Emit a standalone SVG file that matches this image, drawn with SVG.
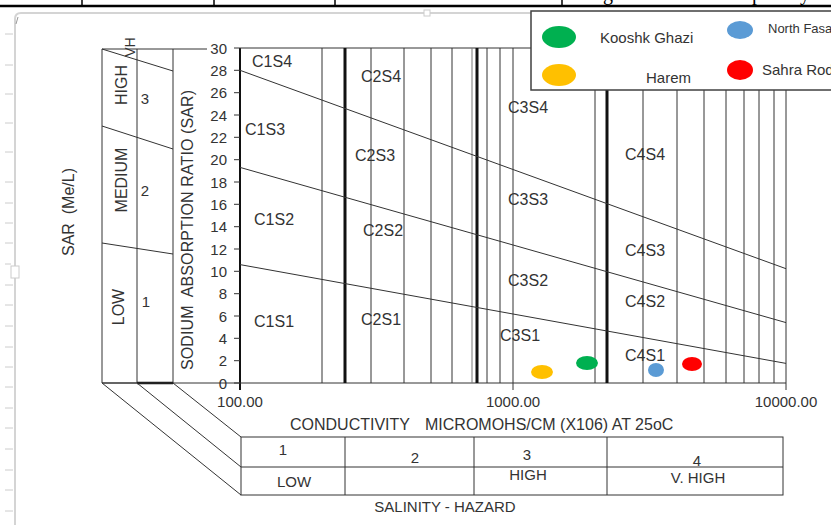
<svg xmlns="http://www.w3.org/2000/svg" width="831" height="529" viewBox="0 0 831 529">
<defs>
<clipPath id="topclip"><rect x="0" y="0" width="831" height="5"/></clipPath>
<style>
.t{font-family:"Liberation Sans",Arial,sans-serif;fill:#333}
.r{font-size:16px}
.y{font-size:15px;text-anchor:end}
.c{text-anchor:middle}
.ln{stroke:#333;stroke-width:1;fill:none}
.th{stroke:#111;stroke-width:3;fill:none}
.fr{stroke:#d4d4d4;fill:none}
.lg{font-family:"Liberation Sans",Arial,sans-serif;fill:#333}
</style>
</defs>
<rect x="0" y="0" width="831" height="529" fill="#fff"/>

<g id="header">
<g clip-path="url(#topclip)" font-family="Liberation Serif,serif" font-size="20" fill="#000">
<text x="603" y="0">g</text><text x="752" y="0">p</text><text x="800" y="0">y</text>
</g>
<line x1="0" y1="6" x2="831" y2="6" stroke="#000" stroke-width="2.5"/>
<g stroke="#000" stroke-width="1.5"><line x1="82" y1="0" x2="82" y2="6"/><line x1="214" y1="0" x2="214" y2="6"/><line x1="335" y1="0" x2="335" y2="6"/><line x1="562" y1="0" x2="562" y2="6"/></g>
</g>

<g id="frame">
<path class="fr" d="M15,525 L15,19 Q15,13 21,13 L831,13" stroke-width="2"/>
<path d="M18,17 L16,24" stroke="#999" stroke-width="1"/>
<rect x="424" y="10" width="6" height="6" fill="#fff" stroke="#ccc"/>
<rect x="11" y="266" width="8" height="12" fill="#fff" stroke="#ccc"/>
<g stroke="#ccc" stroke-width="1">
<line x1="5" y1="34" x2="13" y2="34"/><line x1="5" y1="65" x2="13" y2="65"/><line x1="5" y1="94" x2="13" y2="94"/><line x1="5" y1="123" x2="13" y2="123"/><line x1="5" y1="152" x2="13" y2="152"/><line x1="5" y1="182" x2="13" y2="182"/><line x1="5" y1="203" x2="13" y2="203"/><line x1="5" y1="223" x2="13" y2="223"/><line x1="5" y1="243" x2="13" y2="243"/><line x1="5" y1="264" x2="11" y2="264"/><line x1="5" y1="285" x2="13" y2="285"/><line x1="5" y1="305" x2="13" y2="305"/><line x1="5" y1="326" x2="13" y2="326"/><line x1="5" y1="347" x2="13" y2="347"/><line x1="5" y1="367" x2="13" y2="367"/><line x1="5" y1="387" x2="13" y2="387"/><line x1="5" y1="408" x2="13" y2="408"/><line x1="5" y1="428" x2="13" y2="428"/><line x1="5" y1="449" x2="13" y2="449"/><line x1="5" y1="470" x2="13" y2="470"/><line x1="5" y1="490" x2="13" y2="490"/><line x1="5" y1="511" x2="13" y2="511"/>
</g>
</g>

<g id="sar-axis-title">
<text class="t c" font-size="16" xml:space="preserve" transform="translate(74,212) rotate(-90)">SAR  (Me/L)</text>
</g>

<g id="left-panel">
<g class="ln">
<line x1="102" y1="49" x2="207" y2="49"/>
<line x1="102" y1="49" x2="102" y2="383"/>
<line x1="137" y1="49" x2="137" y2="383"/>
<line x1="173" y1="49" x2="173" y2="383"/>
<line x1="102" y1="49" x2="173" y2="71"/>
<line x1="102" y1="126" x2="173" y2="149"/>
<line x1="102" y1="243" x2="173" y2="254"/>
<line x1="102" y1="383" x2="137" y2="383"/>
</g>
<line x1="137" y1="383" x2="173" y2="383" stroke="#111" stroke-width="2.5"/>
<text class="t c" font-size="14" transform="translate(135,47) rotate(-90)">VH</text>
<text class="t c" font-size="16" transform="translate(127,85) rotate(-90)">HIGH</text>
<text class="t c" font-size="16" transform="translate(127,180) rotate(-90)">MEDIUM</text>
<text class="t c" font-size="16" transform="translate(124,307) rotate(-90)">LOW</text>
<text class="t c" font-size="15" x="145" y="104">3</text>
<text class="t c" font-size="15" x="145" y="196">2</text>
<text class="t c" font-size="15" x="146" y="307">1</text>
<text class="t c" font-size="16" xml:space="preserve" transform="translate(193,230) rotate(-90)" textLength="280">SODIUM  ABSORPTION RATIO (SAR)</text>
</g>

<g id="y-axis">
<line x1="240" y1="48" x2="240" y2="390" stroke="#111" stroke-width="2"/>
<g class="ln">
<line x1="234" y1="383" x2="240" y2="383"/><line x1="234" y1="360.7" x2="240" y2="360.7"/><line x1="234" y1="338.3" x2="240" y2="338.3"/><line x1="234" y1="316" x2="240" y2="316"/><line x1="234" y1="293.7" x2="240" y2="293.7"/><line x1="234" y1="271.3" x2="240" y2="271.3"/><line x1="234" y1="249" x2="240" y2="249"/><line x1="234" y1="226.7" x2="240" y2="226.7"/><line x1="234" y1="204.3" x2="240" y2="204.3"/><line x1="234" y1="182" x2="240" y2="182"/><line x1="234" y1="159.7" x2="240" y2="159.7"/><line x1="234" y1="137.3" x2="240" y2="137.3"/><line x1="234" y1="115" x2="240" y2="115"/><line x1="234" y1="92.7" x2="240" y2="92.7"/><line x1="234" y1="70.3" x2="240" y2="70.3"/><line x1="234" y1="48" x2="240" y2="48"/>
</g>
<text class="t y" x="227" y="388.5">0</text>
<text class="t y" x="227" y="366.2">2</text>
<text class="t y" x="227" y="343.8">4</text>
<text class="t y" x="227" y="321.5">6</text>
<text class="t y" x="227" y="299.2">8</text>
<text class="t y" x="227" y="276.8">10</text>
<text class="t y" x="227" y="254.5">12</text>
<text class="t y" x="227" y="232.2">14</text>
<text class="t y" x="227" y="209.8">16</text>
<text class="t y" x="227" y="187.5">18</text>
<text class="t y" x="227" y="165.2">20</text>
<text class="t y" x="227" y="142.8">22</text>
<text class="t y" x="227" y="120.5">24</text>
<text class="t y" x="227" y="98.2">26</text>
<text class="t y" x="227" y="75.8">28</text>
<text class="t y" x="227" y="53.5">30</text>
</g>

<g id="grid">
<g class="ln">
<line x1="240" y1="48" x2="786" y2="48"/>
<line x1="102" y1="383" x2="786" y2="383"/>
<line x1="786" y1="48" x2="786" y2="390"/>
<line x1="322" y1="48" x2="322" y2="383"/>
<line x1="371" y1="48" x2="371" y2="383"/>
<line x1="404" y1="48" x2="404" y2="383"/>
<line x1="431" y1="48" x2="431" y2="383"/>
<line x1="452" y1="48" x2="452" y2="383"/>
<line x1="472" y1="48" x2="472" y2="383" stroke="#777"/>
<line x1="487" y1="48" x2="487" y2="383"/>
<line x1="500" y1="48" x2="500" y2="383"/>
<line x1="513" y1="48" x2="513" y2="390"/>
<line x1="595" y1="48" x2="595" y2="383"/>
<line x1="643" y1="48" x2="643" y2="383"/>
<line x1="677" y1="48" x2="677" y2="383"/>
<line x1="704" y1="48" x2="704" y2="383"/>
<line x1="726" y1="48" x2="726" y2="383"/>
<line x1="744" y1="48" x2="744" y2="383"/>
<line x1="759" y1="48" x2="759" y2="383"/>
<line x1="774" y1="48" x2="774" y2="383"/>
</g>
<g class="th">
<line x1="345" y1="48" x2="345" y2="383"/>
<line x1="477" y1="48" x2="477" y2="383"/>
<line x1="607" y1="48" x2="607" y2="383"/>
</g>
</g>

<g id="connectors">
<line class="ln" x1="240" y1="70.3" x2="786" y2="268.7"/>
<line class="ln" x1="240" y1="167.4" x2="786" y2="322.6"/>
<line class="ln" x1="240" y1="264.6" x2="786" y2="363.4"/>
<line class="ln" x1="102" y1="383" x2="241" y2="495"/>
<line class="ln" x1="137" y1="383" x2="241" y2="467"/>
<line class="ln" x1="173" y1="383" x2="241" y2="437"/>
</g>

<g id="regions">
<text class="t r" x="252" y="67">C1S4</text>
<text class="t r" x="361" y="82">C2S4</text>
<text class="t r" x="245" y="135">C1S3</text>
<text class="t r" x="355" y="161">C2S3</text>
<text class="t r" x="254" y="225">C1S2</text>
<text class="t r" x="363" y="236">C2S2</text>
<text class="t r" x="254" y="327">C1S1</text>
<text class="t r" x="361" y="325">C2S1</text>
<text class="t r" x="508" y="113">C3S4</text>
<text class="t r" x="625" y="160">C4S4</text>
<text class="t r" x="508" y="205">C3S3</text>
<text class="t r" x="625" y="256">C4S3</text>
<text class="t r" x="508" y="286">C3S2</text>
<text class="t r" x="625" y="307">C4S2</text>
<text class="t r" x="500" y="341">C3S1</text>
<text class="t r" x="625" y="361">C4S1</text>
</g>

<g id="points">
<ellipse cx="542" cy="372" rx="11" ry="7" fill="#ffc000"/>
<ellipse cx="587" cy="363" rx="11" ry="7" fill="#00b050"/>
<ellipse cx="656" cy="370" rx="8" ry="7" fill="#5b9bd5"/>
<ellipse cx="692" cy="364" rx="10" ry="7" fill="#ff0000"/>
</g>

<g id="x-axis">
<text class="t c" font-size="15" x="240" y="407">100.00</text>
<text class="t c" font-size="15" x="513" y="407">1000.00</text>
<text class="t c" font-size="15" x="786" y="407">10000.00</text>
<text class="t" font-size="16" y="430"><tspan x="290">CONDUCTIVITY</tspan><tspan x="425">MICROMOHS/CM (X106) AT 25oC</tspan></text>
</g>

<g id="salinity-table">
<rect class="ln" x="241" y="437" width="542" height="58"/>
<g class="ln">
<line x1="241" y1="467" x2="783" y2="467"/>
<line x1="345" y1="437" x2="345" y2="495"/>
<line x1="474" y1="437" x2="474" y2="495"/>
<line x1="607" y1="437" x2="607" y2="495"/>
</g>
<text class="t c" font-size="15" x="283" y="455">1</text>
<text class="t c" font-size="15" x="294" y="487">LOW</text>
<text class="t c" font-size="15" x="415" y="463">2</text>
<text class="t c" font-size="15" x="527" y="460">3</text>
<text class="t c" font-size="15" x="528" y="480">HIGH</text>
<text class="t c" font-size="15" x="697" y="466">4</text>
<text class="t c" font-size="15" x="698" y="483">V. HIGH</text>
<text class="t c" font-size="15" x="445" y="512">SALINITY - HAZARD</text>
</g>

<g id="legend">
<rect x="531" y="11" width="310" height="79" fill="#fff" stroke="#404040" stroke-width="1.5"/>
<ellipse cx="559" cy="37" rx="17" ry="11" fill="#00b050"/>
<text class="lg" font-size="15" x="600" y="43">Kooshk Ghazi</text>
<ellipse cx="559" cy="75" rx="17" ry="11" fill="#ffc000"/>
<text class="lg" font-size="15" x="646" y="83">Harem</text>
<ellipse cx="740" cy="30" rx="13" ry="9" fill="#5b9bd5"/>
<text class="lg" font-size="13" x="768" y="33">North Fasa</text>
<ellipse cx="740" cy="70" rx="13" ry="10" fill="#ff0000"/>
<text class="lg" font-size="15" x="762" y="75">Sahra Rod</text>
</g>
</svg>
